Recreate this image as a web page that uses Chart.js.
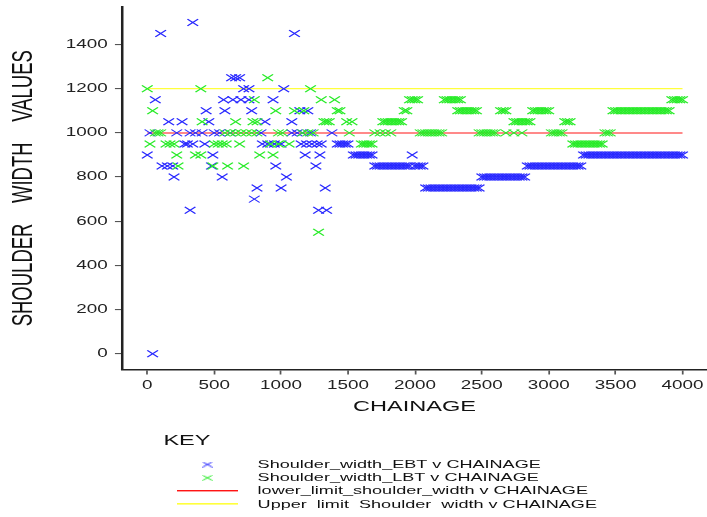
<!DOCTYPE html>
<html>
<head>
<meta charset="utf-8">
<script src="https://cdn.jsdelivr.net/npm/chart.js@4.4.1/dist/chart.umd.min.js"></script>
<style>
  html, body { margin: 0; padding: 0; background: #fff; overflow: hidden; }
  canvas { display: block; }
</style>
</head>
<body>
<canvas id="chart" width="450" height="517" style="width:707px;height:517px"></canvas>
<script>
// ---- axis ticks and limit lines ----
const xTickValues = [0, 500, 1000, 1500, 2000, 2500, 3000, 3500, 4000];
const yTickValues = [0, 200, 400, 600, 800, 1000, 1200, 1400];
const limitChainage = [0, 4000];
const lowerLimit = [1000, 1000];
const upperLimit = [1200, 1200];

const seriesLabels = [
  'Shoulder_width_EBT v CHAINAGE',
  'Shoulder_width_LBT v CHAINAGE',
  'lower_limit_shoulder_width v CHAINAGE',
  'Upper  limit  Shoulder  width v CHAINAGE'
];

// ---- Shoulder_width_EBT: chainages (m) recorded at each width ----
const ebt1500 = [340];
const ebt1450 = [100, 1100];
const ebt1250 = [630, 660, 690];
const ebt1200 = [720, 760, 1020];
const ebt1150 = [60, 570, 640, 700, 760, 940];
const ebt1100 = [440, 580, 780, 1140, 1200];
const ebt1050 = [160, 260, 460, 880, 1080];
const ebt1000 = [20, 220, 320, 360, 410, 500, 540, 620, 850, 1080, 1120, 1160, 1220, 1380];
const ebt950 = [280, 300, 340, 430, 860, 900, 950, 1000, 1150, 1190, 1230, 1270, 1300,
  1420, 1440, 1460, 1480, 1500];
const ebt900 = [0, 490, 1180, 1290, 1540, 1560, 1580, 1600, 1620, 1640, 1660, 1680, 1980,
  3260, 3280, 3300, 3320, 3340, 3360, 3380, 3400, 3420, 3440, 3460, 3480, 3500, 3520, 3540,
  3560, 3580, 3600, 3620, 3640, 3660, 3680, 3700, 3720, 3740, 3760, 3780, 3800, 3820, 3840,
  3860, 3880, 3900, 3920, 3940, 3960, 3980, 4000];
const ebt850 = [110, 150, 190, 480, 960, 1260, 1700, 1720, 1740, 1760, 1780, 1800, 1820,
  1840, 1860, 1880, 1900, 1920, 1940, 1960, 2000, 2020, 2040, 2060, 2840, 2860, 2880, 2900,
  2920, 2940, 2960, 2980, 3000, 3020, 3040, 3060, 3080, 3100, 3120, 3140, 3160, 3180, 3200,
  3220, 3240];
const ebt800 = [200, 560, 1040, 2500, 2520, 2540, 2560, 2580, 2600, 2620, 2640, 2660, 2680,
  2700, 2720, 2740, 2760, 2780, 2800, 2820];
const ebt750 = [820, 1000, 1330, 2080, 2100, 2120, 2140, 2160, 2180, 2200, 2220, 2240, 2260,
  2280, 2300, 2320, 2340, 2360, 2380, 2400, 2420, 2440, 2460, 2480];
const ebt700 = [800];
const ebt650 = [320, 1280, 1340];
const ebt0 = [40];

// ---- Shoulder_width_LBT: chainages (m) recorded at each width ----
const lbt1250 = [900];
const lbt1200 = [0, 400, 1220];
const lbt1150 = [800, 1300, 1400, 1960, 1980, 2000, 2020, 2220, 2240, 2260, 2280, 2300, 2320,
  2340, 3920, 3940, 3960, 3980, 4000];
const lbt1100 = [40, 960, 1100, 1170, 1420, 1440, 1920, 1940, 2320, 2340, 2360, 2380, 2400,
  2420, 2440, 2460, 2640, 2660, 2680, 2880, 2900, 2920, 2940, 2960, 2980, 3000, 3480, 3500,
  3520, 3540, 3560, 3580, 3600, 3620, 3640, 3660, 3680, 3700, 3720, 3740, 3760, 3780, 3800,
  3820, 3840, 3860, 3880, 3900];
const lbt1050 = [410, 660, 790, 820, 1320, 1340, 1360, 1490, 1530, 1760, 1780, 1800, 1820,
  1840, 1860, 1880, 1900, 2740, 2760, 2780, 2800, 2820, 2840, 2860, 3120, 3140, 3160];
const lbt1000 = [60, 80, 100, 580, 620, 660, 700, 740, 780, 820, 980, 1010, 1160, 1200, 1240,
  1510, 1700, 1740, 1780, 1820, 2040, 2060, 2080, 2100, 2120, 2140, 2160, 2180, 2200, 2480,
  2500, 2520, 2540, 2560, 2580, 2600, 2680, 2740, 2800, 3020, 3040, 3060, 3080, 3100, 3420,
  3440, 3460];
const lbt950 = [20, 140, 170, 200, 500, 530, 560, 590, 690, 920, 980, 1060, 1600, 1620, 1640,
  1660, 1680, 3180, 3200, 3220, 3240, 3260, 3280, 3300, 3320, 3340, 3360, 3380, 3400];
const lbt900 = [220, 360, 400, 840, 940];
const lbt850 = [230, 490, 600, 720];
const lbt550 = [1280];

const ebtByWidth = [[1500, ebt1500], [1450, ebt1450], [1250, ebt1250], [1200, ebt1200],
  [1150, ebt1150], [1100, ebt1100], [1050, ebt1050], [1000, ebt1000], [950, ebt950],
  [900, ebt900], [850, ebt850], [800, ebt800], [750, ebt750], [700, ebt700], [650, ebt650],
  [0, ebt0]];
const lbtByWidth = [[1250, lbt1250], [1200, lbt1200], [1150, lbt1150], [1100, lbt1100],
  [1050, lbt1050], [1000, lbt1000], [950, lbt950], [900, lbt900], [850, lbt850], [550, lbt550]];

// ---- drawing setup ----
const LOGICAL_W = 450;   // width the chart is laid out in
const PAGE_W = 707;      // width it is shown at (horizontally stretched plot)
const SX = PAGE_W / LOGICAL_W;

const EBT_COLOR = 'rgb(40,40,255)';
const LBT_COLOR = 'rgb(40,235,40)';
const LOWER_COLOR = 'rgb(255,20,20)';
const UPPER_COLOR = 'rgb(255,255,60)';

function toPoints(byWidth) {
  return byWidth.flatMap(([w, chainages]) => chainages.map(c => ({ x: c, y: w })));
}
function linePoints(xs, ys) {
  return xs.map((x, i) => ({ x, y: ys[i] }));
}

function crossIcon(color) {
  const c = document.createElement('canvas');
  c.width = 7; c.height = 6;
  const g = c.getContext('2d');
  g.strokeStyle = color; g.lineWidth = 1;
  g.beginPath();
  g.moveTo(0.5, 0.5); g.lineTo(6.5, 5.5);
  g.moveTo(0.5, 5.5); g.lineTo(6.5, 0.5);
  g.stroke();
  return c;
}
function lineIcon(color) {
  const c = document.createElement('canvas');
  c.width = 39; c.height = 2;
  const g = c.getContext('2d');
  g.fillStyle = color; g.fillRect(0, 0, 39, 1);
  g.globalAlpha = 0.35; g.fillRect(0, 1, 39, 1);
  return c;
}
const legendIcons = [crossIcon(EBT_COLOR), crossIcon(LBT_COLOR), lineIcon(LOWER_COLOR), lineIcon(UPPER_COLOR)];

// Draw the laid-out chart stretched horizontally onto the full-width canvas
const stretchPlugin = {
  id: 'stretch',
  beforeDraw(chart) {
    const c = chart.canvas;
    if (c.width !== PAGE_W) c.width = PAGE_W;
    chart.ctx.setTransform(SX, 0, 0, 1, 0, 0);
  }
};

// Place the key block under the x axis title
const keyPlacement = {
  id: 'keyPlacement',
  afterLayout(chart) {
    const lg = chart.legend;
    if (!lg) return;
    lg.left = 104; lg.right = 449;
    lg.top = 433.5; lg.bottom = 640;
    lg.width = lg.right - lg.left;
    lg.height = lg.bottom - lg.top;
  }
};

Chart.defaults.font.family = "'Liberation Sans', Arial, sans-serif";
Chart.defaults.color = '#222';

new Chart(document.getElementById('chart'), {
  type: 'scatter',
  data: {
    datasets: [
      {
        label: seriesLabels[0], data: toPoints(ebtByWidth), order: 1,
        pointStyle: 'crossRot', pointRadius: 4.8, pointBorderWidth: 1,
        borderColor: EBT_COLOR, backgroundColor: EBT_COLOR
      },
      {
        label: seriesLabels[1], data: toPoints(lbtByWidth), order: 0,
        pointStyle: 'crossRot', pointRadius: 4.8, pointBorderWidth: 1,
        borderColor: LBT_COLOR, backgroundColor: LBT_COLOR
      },
      {
        label: seriesLabels[2], data: linePoints(limitChainage, lowerLimit), order: 2,
        showLine: true, pointRadius: 0, borderWidth: 1,
        borderColor: LOWER_COLOR, backgroundColor: LOWER_COLOR
      },
      {
        label: seriesLabels[3], data: linePoints(limitChainage, upperLimit), order: 3,
        showLine: true, pointRadius: 0, borderWidth: 1.2,
        borderColor: UPPER_COLOR, backgroundColor: UPPER_COLOR
      }
    ]
  },
  options: {
    responsive: false,
    devicePixelRatio: 1,
    animation: false,
    events: [],
    layout: { autoPadding: false, padding: { left: 0, right: 0, top: 7, bottom: 97.5 } },
    scales: {
      x: {
        type: 'linear', min: -189, max: 4183,
        afterBuildTicks: s => { s.ticks = xTickValues.map(v => ({ value: v })); },
        afterFit: s => { s.height = 50; s.paddingLeft = 0; s.paddingRight = 0; },
        ticks: { autoSkip: false, maxRotation: 0, padding: 4.3, color: '#222',
          font: { size: 12 }, callback: v => String(v) },
        grid: { display: true, drawOnChartArea: false, drawTicks: true, tickLength: 5,
          color: '#555', lineWidth: 1.1 },
        border: { display: true, color: '#222', width: 1.6 },
        title: { display: true, text: 'CHAINAGE', color: '#111', font: { size: 15 },
          padding: { top: 0, bottom: 3.5 } }
      },
      y: {
        type: 'linear', min: -71.5, max: 1570,
        afterBuildTicks: s => { s.ticks = yTickValues.map(v => ({ value: v })); },
        afterFit: s => { s.width = 77.65; s.paddingTop = 0; s.paddingBottom = 0; },
        ticks: { padding: 4.6, color: '#222', font: { size: 12 }, callback: v => String(v) },
        grid: { display: true, drawOnChartArea: false, drawTicks: true, tickLength: 4.5,
          color: '#555', lineWidth: 1.1 },
        border: { display: true, color: '#222', width: 1.6 },
        title: { display: true, text: 'SHOULDER    WIDTH    VALUES', color: '#111',
          font: { size: 18.5 }, padding: { top: 4.3, bottom: 0 } }
      }
    },
    plugins: {
      tooltip: { enabled: false },
      legend: {
        position: 'chartArea',
        align: 'start',
        title: { display: true, text: 'KEY', position: 'start', color: '#111',
          font: { size: 15 }, padding: { top: 0, bottom: 5.45 } },
        labels: {
          usePointStyle: true,
          pointStyleWidth: 52.4,
          padding: 1.8,
          color: '#111',
          font: { size: 11.5 },
          sort: (a, b) => a.datasetIndex - b.datasetIndex,
          generateLabels(chart) {
            const items = Chart.defaults.plugins.legend.labels.generateLabels(chart);
            items.forEach(it => { it.pointStyle = legendIcons[it.datasetIndex]; it.lineWidth = 0; });
            return items;
          }
        }
      }
    }
  },
  plugins: [stretchPlugin, keyPlacement]
});
</script>
</body>
</html>
